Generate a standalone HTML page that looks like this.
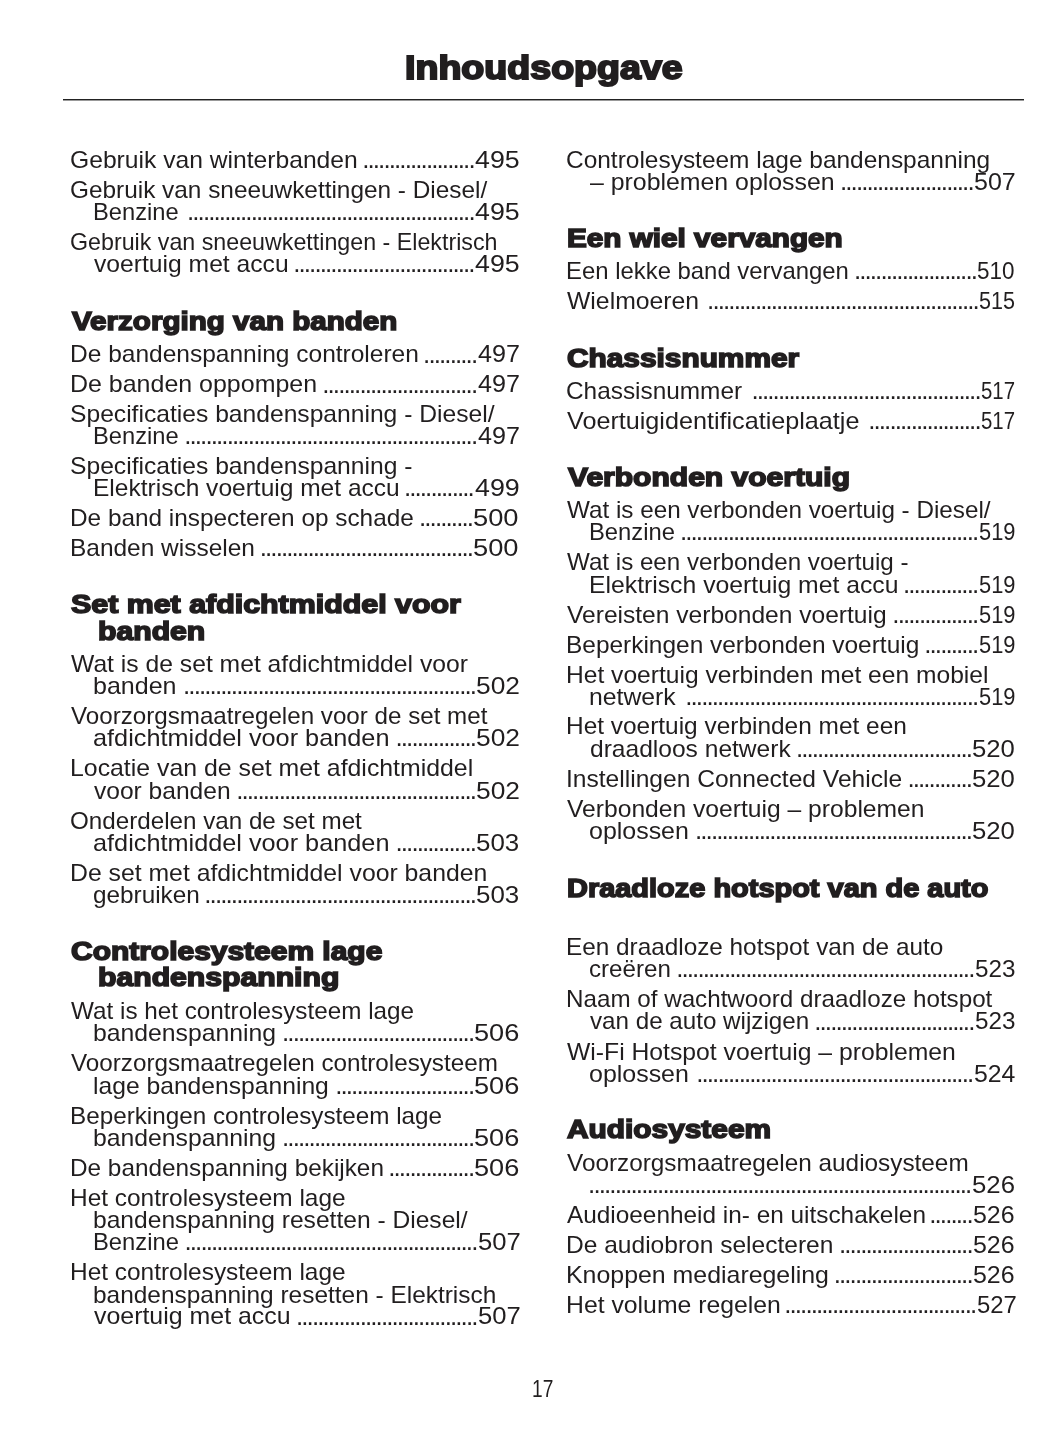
<!DOCTYPE html>
<html><head><meta charset="utf-8"><title>Inhoudsopgave</title>
<style>
html,body{margin:0;padding:0;background:#fff;}
body{width:1055px;height:1448px;position:relative;overflow:hidden;will-change:transform;color:#211e1f;font-family:"Liberation Sans",sans-serif;font-kerning:normal;}
.t,.h,.ti,.dt{position:absolute;white-space:pre;line-height:normal;transform-origin:0 0;}
.t{font-size:24.0px;}
.h{font-size:26.0px;font-weight:bold;-webkit-text-stroke:1.6px #211e1f;}
.ti{font-size:33.0px;font-weight:bold;-webkit-text-stroke:2.0px #211e1f;}
.dt{font-size:26.0px;}
.rule{position:absolute;left:63px;top:99px;width:961px;height:2px;background:linear-gradient(to bottom,#222 0,#222 1px,#999 1px,#999 2px);}
</style></head><body>
<div class="rule"></div>
<div class="t" style="left:70.07px;top:146.17px;transform:scaleX(1.0270);">Gebruik van winterbanden</div>
<div class="t" style="left:475.33px;top:146.17px;transform:scaleX(1.1146);">495</div>
<div class="dt" style="left:362.20px;top:144.36px;letter-spacing:-1.914px">.....................</div>
<div class="t" style="left:70.08px;top:175.97px;transform:scaleX(1.0154);">Gebruik van sneeuwkettingen - Diesel/</div>
<div class="t" style="left:92.83px;top:197.87px;transform:scaleX(0.9869);">Benzine</div>
<div class="t" style="left:475.33px;top:197.87px;transform:scaleX(1.1146);">495</div>
<div class="dt" style="left:186.97px;top:196.06px;letter-spacing:-1.914px">......................................................</div>
<div class="t" style="left:70.14px;top:227.77px;transform:scaleX(0.9681);">Gebruik van sneeuwkettingen - Elektrisch</div>
<div class="t" style="left:93.90px;top:249.67px;transform:scaleX(1.0277);">voertuig met accu</div>
<div class="t" style="left:475.33px;top:249.67px;transform:scaleX(1.1146);">495</div>
<div class="dt" style="left:293.17px;top:247.86px;letter-spacing:-1.914px">..................................</div>
<div class="h" style="left:71.87px;top:305.76px;transform:scaleX(1.1372);">Verzorging van banden</div>
<div class="t" style="left:70.06px;top:340.37px;transform:scaleX(1.0213);">De bandenspanning controleren</div>
<div class="t" style="left:477.87px;top:340.37px;transform:scaleX(1.0471);">497</div>
<div class="dt" style="left:423.11px;top:338.56px;letter-spacing:-1.914px">..........</div>
<div class="t" style="left:70.02px;top:370.37px;transform:scaleX(1.0402);">De banden oppompen</div>
<div class="t" style="left:477.87px;top:370.37px;transform:scaleX(1.0471);">497</div>
<div class="dt" style="left:322.22px;top:368.56px;letter-spacing:-1.914px">.............................</div>
<div class="t" style="left:70.17px;top:400.47px;transform:scaleX(1.0264);">Specificaties bandenspanning - Diesel/</div>
<div class="t" style="left:92.83px;top:421.77px;transform:scaleX(0.9869);">Benzine</div>
<div class="t" style="left:477.87px;top:421.77px;transform:scaleX(1.0471);">497</div>
<div class="dt" style="left:184.16px;top:419.96px;letter-spacing:-1.914px">.......................................................</div>
<div class="t" style="left:70.17px;top:451.67px;transform:scaleX(1.0266);">Specificaties bandenspanning -</div>
<div class="t" style="left:92.76px;top:473.77px;transform:scaleX(1.0219);">Elektrisch voertuig met accu</div>
<div class="t" style="left:474.53px;top:473.77px;transform:scaleX(1.1175);">499</div>
<div class="dt" style="left:403.88px;top:471.96px;letter-spacing:-1.914px">.............</div>
<div class="t" style="left:70.07px;top:503.67px;transform:scaleX(1.0143);">De band inspecteren op schade</div>
<div class="t" style="left:473.26px;top:503.67px;transform:scaleX(1.1365);">500</div>
<div class="dt" style="left:419.01px;top:501.86px;letter-spacing:-1.914px">..........</div>
<div class="t" style="left:70.06px;top:533.57px;transform:scaleX(1.0191);">Banden wisselen</div>
<div class="t" style="left:473.26px;top:533.57px;transform:scaleX(1.1365);">500</div>
<div class="dt" style="left:259.71px;top:531.76px;letter-spacing:-1.914px">........................................</div>
<div class="h" style="left:71.17px;top:588.66px;transform:scaleX(1.1681);">Set met afdichtmiddel voor</div>
<div class="h" style="left:97.93px;top:615.66px;transform:scaleX(1.1605);">banden</div>
<div class="t" style="left:71.20px;top:649.77px;transform:scaleX(1.0285);">Wat is de set met afdichtmiddel voor</div>
<div class="t" style="left:93.13px;top:671.67px;transform:scaleX(1.0429);">banden</div>
<div class="t" style="left:476.30px;top:671.67px;transform:scaleX(1.0979);">502</div>
<div class="dt" style="left:183.06px;top:669.86px;letter-spacing:-1.914px">.......................................................</div>
<div class="t" style="left:71.20px;top:701.67px;transform:scaleX(1.0068);">Voorzorgsmaatregelen voor de set met</div>
<div class="t" style="left:92.95px;top:724.27px;transform:scaleX(1.0530);">afdichtmiddel voor banden</div>
<div class="t" style="left:476.30px;top:724.27px;transform:scaleX(1.0979);">502</div>
<div class="dt" style="left:395.46px;top:722.46px;letter-spacing:-1.914px">...............</div>
<div class="t" style="left:70.03px;top:754.27px;transform:scaleX(1.0350);">Locatie van de set met afdichtmiddel</div>
<div class="t" style="left:93.90px;top:776.77px;transform:scaleX(1.0235);">voor banden</div>
<div class="t" style="left:476.30px;top:776.77px;transform:scaleX(1.0979);">502</div>
<div class="dt" style="left:236.16px;top:774.96px;letter-spacing:-1.914px">.............................................</div>
<div class="t" style="left:70.19px;top:806.87px;transform:scaleX(1.0080);">Onderdelen van de set met</div>
<div class="t" style="left:92.95px;top:828.67px;transform:scaleX(1.0530);">afdichtmiddel voor banden</div>
<div class="t" style="left:476.32px;top:828.67px;transform:scaleX(1.0789);">503</div>
<div class="dt" style="left:395.46px;top:826.86px;letter-spacing:-1.914px">...............</div>
<div class="t" style="left:70.04px;top:859.07px;transform:scaleX(1.0322);">De set met afdichtmiddel voor banden</div>
<div class="t" style="left:92.99px;top:880.87px;transform:scaleX(1.0126);">gebruiken</div>
<div class="t" style="left:476.32px;top:880.87px;transform:scaleX(1.0789);">503</div>
<div class="dt" style="left:204.30px;top:879.06px;letter-spacing:-1.914px">...................................................</div>
<div class="h" style="left:70.83px;top:936.26px;transform:scaleX(1.1521);">Controlesysteem lage</div>
<div class="h" style="left:97.93px;top:962.16px;transform:scaleX(1.1603);">bandenspanning</div>
<div class="t" style="left:71.20px;top:996.97px;transform:scaleX(1.0112);">Wat is het controlesysteem lage</div>
<div class="t" style="left:93.15px;top:1018.87px;transform:scaleX(1.0310);">bandenspanning</div>
<div class="t" style="left:474.37px;top:1018.87px;transform:scaleX(1.1316);">506</div>
<div class="dt" style="left:282.05px;top:1017.06px;letter-spacing:-1.914px">....................................</div>
<div class="t" style="left:71.20px;top:1049.07px;transform:scaleX(1.0093);">Voorzorgsmaatregelen controlesysteem</div>
<div class="t" style="left:93.16px;top:1071.77px;transform:scaleX(1.0274);">lage bandenspanning</div>
<div class="t" style="left:474.37px;top:1071.77px;transform:scaleX(1.1316);">506</div>
<div class="dt" style="left:335.15px;top:1069.96px;letter-spacing:-1.914px">..........................</div>
<div class="t" style="left:70.08px;top:1101.87px;transform:scaleX(1.0104);">Beperkingen controlesysteem lage</div>
<div class="t" style="left:93.15px;top:1123.77px;transform:scaleX(1.0310);">bandenspanning</div>
<div class="t" style="left:474.37px;top:1123.77px;transform:scaleX(1.1316);">506</div>
<div class="dt" style="left:282.05px;top:1121.96px;letter-spacing:-1.914px">....................................</div>
<div class="t" style="left:70.07px;top:1153.87px;transform:scaleX(1.0141);">De bandenspanning bekijken</div>
<div class="t" style="left:474.37px;top:1153.87px;transform:scaleX(1.1316);">506</div>
<div class="dt" style="left:388.25px;top:1152.06px;letter-spacing:-1.914px">................</div>
<div class="t" style="left:70.06px;top:1183.77px;transform:scaleX(1.0176);">Het controlesysteem lage</div>
<div class="t" style="left:93.16px;top:1205.67px;transform:scaleX(1.0247);">bandenspanning resetten - Diesel/</div>
<div class="t" style="left:92.82px;top:1227.67px;transform:scaleX(0.9904);">Benzine</div>
<div class="t" style="left:477.73px;top:1227.67px;transform:scaleX(1.0688);">507</div>
<div class="dt" style="left:184.46px;top:1225.86px;letter-spacing:-1.914px">.......................................................</div>
<div class="t" style="left:70.06px;top:1257.57px;transform:scaleX(1.0176);">Het controlesysteem lage</div>
<div class="t" style="left:93.17px;top:1280.57px;transform:scaleX(1.0178);">bandenspanning resetten - Elektrisch</div>
<div class="t" style="left:93.90px;top:1302.47px;transform:scaleX(1.0378);">voertuig met accu</div>
<div class="t" style="left:477.73px;top:1302.47px;transform:scaleX(1.0688);">507</div>
<div class="dt" style="left:295.97px;top:1300.66px;letter-spacing:-1.914px">..................................</div>
<div class="t" style="left:565.98px;top:146.17px;transform:scaleX(1.0189);">Controlesysteem lage bandenspanning</div>
<div class="t" style="left:590.20px;top:168.07px;transform:scaleX(1.0358);">– problemen oplossen</div>
<div class="t" style="left:973.96px;top:168.07px;transform:scaleX(1.0423);">507</div>
<div class="dt" style="left:839.96px;top:166.26px;letter-spacing:-1.914px">.........................</div>
<div class="h" style="left:566.86px;top:222.56px;transform:scaleX(1.1424);">Een wiel vervangen</div>
<div class="t" style="left:566.01px;top:256.97px;transform:scaleX(0.9954);">Een lekke band vervangen</div>
<div class="t" style="left:977.36px;top:256.97px;transform:scaleX(0.9370);">510</div>
<div class="dt" style="left:853.88px;top:255.16px;letter-spacing:-1.914px">.......................</div>
<div class="t" style="left:567.10px;top:286.77px;transform:scaleX(1.0316);">Wielmoeren</div>
<div class="t" style="left:979.30px;top:286.77px;transform:scaleX(0.8974);">515</div>
<div class="dt" style="left:707.10px;top:284.96px;letter-spacing:-1.914px">...................................................</div>
<div class="h" style="left:566.74px;top:342.66px;transform:scaleX(1.1474);">Chassisnummer</div>
<div class="t" style="left:565.98px;top:376.87px;transform:scaleX(1.0157);">Chassisnummer</div>
<div class="t" style="left:981.15px;top:376.87px;transform:scaleX(0.8492);">517</div>
<div class="dt" style="left:751.38px;top:375.06px;letter-spacing:-1.914px">...........................................</div>
<div class="t" style="left:567.10px;top:406.77px;transform:scaleX(1.0486);">Voertuigidentificatieplaatje</div>
<div class="t" style="left:981.15px;top:406.77px;transform:scaleX(0.8492);">517</div>
<div class="dt" style="left:868.20px;top:404.96px;letter-spacing:-1.914px">.....................</div>
<div class="h" style="left:567.77px;top:461.56px;transform:scaleX(1.1552);">Verbonden voertuig</div>
<div class="t" style="left:567.10px;top:496.17px;transform:scaleX(1.0100);">Wat is een verbonden voertuig - Diesel/</div>
<div class="t" style="left:588.62px;top:518.07px;transform:scaleX(0.9916);">Benzine</div>
<div class="t" style="left:978.69px;top:518.07px;transform:scaleX(0.9103);">519</div>
<div class="dt" style="left:679.95px;top:516.26px;letter-spacing:-1.914px">........................................................</div>
<div class="t" style="left:567.10px;top:547.87px;transform:scaleX(1.0065);">Wat is een verbonden voertuig -</div>
<div class="t" style="left:588.54px;top:570.97px;transform:scaleX(1.0310);">Elektrisch voertuig met accu</div>
<div class="t" style="left:978.69px;top:570.97px;transform:scaleX(0.9103);">519</div>
<div class="dt" style="left:902.97px;top:569.16px;letter-spacing:-1.914px">..............</div>
<div class="t" style="left:567.10px;top:600.97px;transform:scaleX(1.0238);">Vereisten verbonden voertuig</div>
<div class="t" style="left:978.69px;top:600.97px;transform:scaleX(0.9103);">519</div>
<div class="dt" style="left:892.35px;top:599.16px;letter-spacing:-1.914px">................</div>
<div class="t" style="left:565.96px;top:630.87px;transform:scaleX(1.0183);">Beperkingen verbonden voertuig</div>
<div class="t" style="left:978.69px;top:630.87px;transform:scaleX(0.9103);">519</div>
<div class="dt" style="left:924.21px;top:629.06px;letter-spacing:-1.914px">..........</div>
<div class="t" style="left:565.95px;top:660.97px;transform:scaleX(1.0247);">Het voertuig verbinden met een mobiel</div>
<div class="t" style="left:588.95px;top:683.07px;transform:scaleX(1.0316);">netwerk</div>
<div class="t" style="left:978.69px;top:683.07px;transform:scaleX(0.9103);">519</div>
<div class="dt" style="left:685.26px;top:681.26px;letter-spacing:-1.914px">.......................................................</div>
<div class="t" style="left:565.96px;top:712.47px;transform:scaleX(1.0178);">Het voertuig verbinden met een</div>
<div class="t" style="left:589.58px;top:734.87px;transform:scaleX(1.0236);">draadloos netwerk</div>
<div class="t" style="left:972.33px;top:734.87px;transform:scaleX(1.0709);">520</div>
<div class="dt" style="left:795.88px;top:733.06px;letter-spacing:-1.914px">.................................</div>
<div class="t" style="left:565.75px;top:764.97px;transform:scaleX(1.0240);">Instellingen Connected Vehicle</div>
<div class="t" style="left:972.33px;top:764.97px;transform:scaleX(1.0709);">520</div>
<div class="dt" style="left:907.39px;top:763.16px;letter-spacing:-1.914px">............</div>
<div class="t" style="left:567.10px;top:794.67px;transform:scaleX(1.0265);">Verbonden voertuig – problemen</div>
<div class="t" style="left:588.76px;top:816.77px;transform:scaleX(1.0396);">oplossen</div>
<div class="t" style="left:972.33px;top:816.77px;transform:scaleX(1.0709);">520</div>
<div class="dt" style="left:694.99px;top:814.96px;letter-spacing:-1.914px">....................................................</div>
<div class="h" style="left:566.91px;top:872.56px;transform:scaleX(1.1134);">Draadloze hotspot van de auto</div>
<div class="t" style="left:565.97px;top:932.87px;transform:scaleX(1.0133);">Een draadloze hotspot van de auto</div>
<div class="t" style="left:588.79px;top:954.97px;transform:scaleX(1.0063);">creëren</div>
<div class="t" style="left:974.79px;top:954.97px;transform:scaleX(1.0105);">523</div>
<div class="dt" style="left:676.15px;top:953.16px;letter-spacing:-1.914px">........................................................</div>
<div class="t" style="left:565.98px;top:984.87px;transform:scaleX(1.0081);">Naam of wachtwoord draadloze hotspot</div>
<div class="t" style="left:589.70px;top:1007.37px;transform:scaleX(1.0074);">van de auto wijzigen</div>
<div class="t" style="left:974.79px;top:1007.37px;transform:scaleX(1.0105);">523</div>
<div class="dt" style="left:814.21px;top:1005.56px;letter-spacing:-1.914px">..............................</div>
<div class="t" style="left:567.10px;top:1037.57px;transform:scaleX(1.0298);">Wi-Fi Hotspot voertuig – problemen</div>
<div class="t" style="left:588.76px;top:1059.67px;transform:scaleX(1.0396);">oplossen</div>
<div class="t" style="left:973.57px;top:1059.67px;transform:scaleX(1.0339);">524</div>
<div class="dt" style="left:696.19px;top:1057.86px;letter-spacing:-1.914px">....................................................</div>
<div class="h" style="left:567.20px;top:1114.36px;transform:scaleX(1.1482);">Audiosysteem</div>
<div class="t" style="left:567.10px;top:1148.87px;transform:scaleX(1.0137);">Voorzorgsmaatregelen audiosysteem</div>
<div class="t" style="left:971.63px;top:1170.87px;transform:scaleX(1.0737);">526</div>
<div class="dt" style="left:588.09px;top:1169.06px;letter-spacing:-1.914px">........................................................................</div>
<div class="t" style="left:567.10px;top:1201.07px;transform:scaleX(1.0151);">Audioeenheid in- en uitschakelen</div>
<div class="t" style="left:972.96px;top:1201.07px;transform:scaleX(1.0395);">526</div>
<div class="dt" style="left:929.23px;top:1199.26px;letter-spacing:-1.914px">........</div>
<div class="t" style="left:565.96px;top:1231.17px;transform:scaleX(1.0225);">De audiobron selecteren</div>
<div class="t" style="left:972.96px;top:1231.17px;transform:scaleX(1.0395);">526</div>
<div class="dt" style="left:838.96px;top:1229.36px;letter-spacing:-1.914px">.........................</div>
<div class="t" style="left:565.93px;top:1261.07px;transform:scaleX(1.0372);">Knoppen mediaregeling</div>
<div class="t" style="left:972.96px;top:1261.07px;transform:scaleX(1.0395);">526</div>
<div class="dt" style="left:833.65px;top:1259.26px;letter-spacing:-1.914px">..........................</div>
<div class="t" style="left:565.94px;top:1291.07px;transform:scaleX(1.0323);">Het volume regelen</div>
<div class="t" style="left:976.61px;top:1291.07px;transform:scaleX(0.9947);">527</div>
<div class="dt" style="left:784.15px;top:1289.26px;letter-spacing:-1.914px">....................................</div>
<div class="ti" style="left:404.89px;top:48.83px;transform:scaleX(1.1389);">Inhoudsopgave</div>
<div class="t" style="left:532.16px;top:1375.07px;transform:scaleX(0.7975);">17</div>
</body></html>
